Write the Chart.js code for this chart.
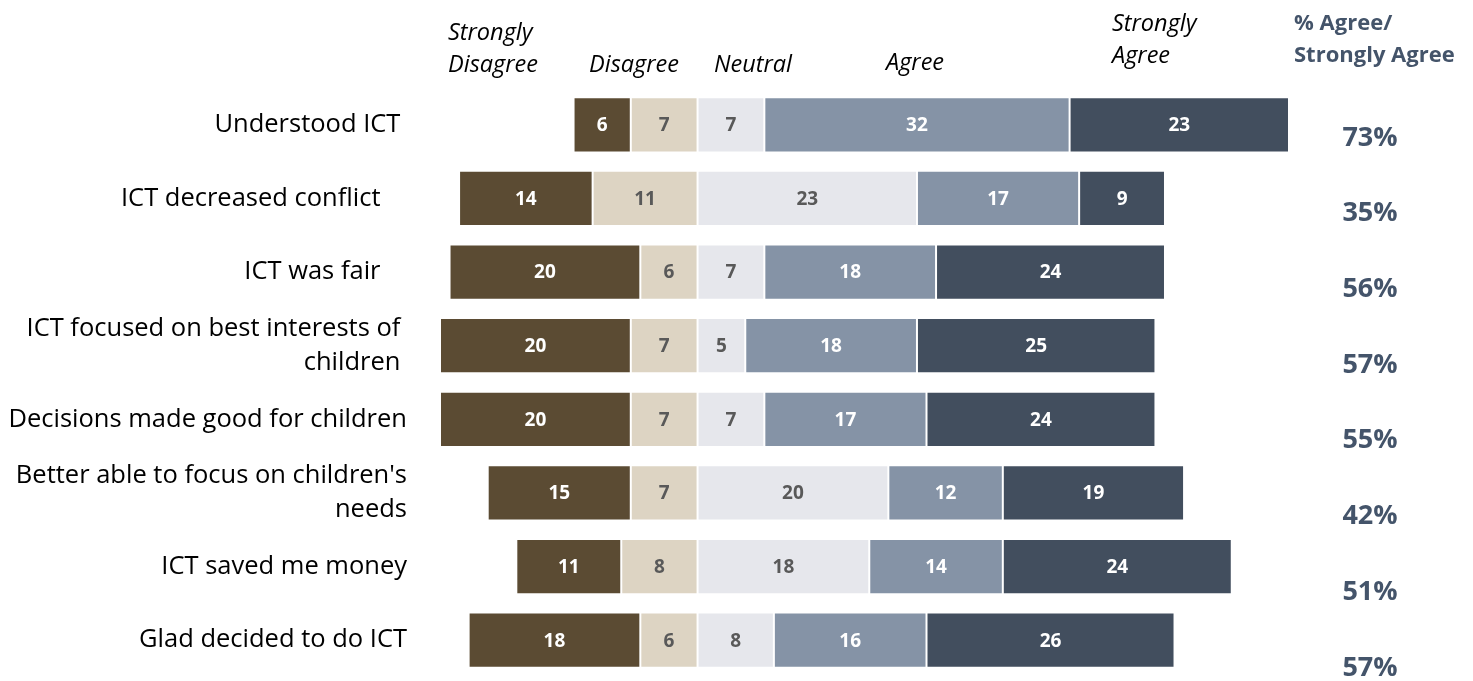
<!DOCTYPE html>
<html>
<head>
<meta charset="utf-8">
<script src="https://cdn.jsdelivr.net/npm/chart.js@4"></script>
<style>
  body { margin: 0; background: #fff; overflow: hidden; }
</style>
</head>
<body>
<canvas id="chart1" width="1473" height="681"></canvas>
<script>
Chart.defaults.font.family = "'Open Sans', sans-serif"

// preguntas (eje y)
const questions = [
  'Understood ICT ',
  'ICT decreased conflict    ',
  'ICT was fair    ',
  ['ICT focused on best interests of ', 'children '],
  'Decisions made good for children',
  ["Better able to focus on children's", 'needs'],
  'ICT saved me money',
  'Glad decided to do ICT'
]

// respuestas (conteos)
const stronglyDisagree = [6, 14, 20, 20, 20, 15, 11, 18]
const disagree         = [7, 11, 6, 7, 7, 7, 8, 6]
const neutral          = [7, 23, 7, 5, 7, 20, 18, 8]
const agree            = [32, 17, 18, 18, 17, 12, 14, 16]
const stronglyAgree    = [23, 9, 24, 25, 24, 19, 24, 26]

const pctAgree = ['73%', '35%', '56%', '57%', '55%', '42%', '51%', '57%']

const headerLabels = [['Strongly', 'Disagree'], ['Disagree'], ['Neutral'], ['Agree'], ['Strongly', 'Agree']]
const pctHeader = ['% Agree/', 'Strongly Agree']

const colors = ['#5b4b33', '#ddd4c3', '#e6e7ec', '#8593a6', '#424e5e']
const labelColors = ['#ffffff', '#595959', '#595959', '#ffffff', '#ffffff']

/* barras flotantes: el corte entre "Disagree" y "Neutral" queda en 0 */
const ranges = [
  stronglyDisagree.map((v, i) => [-(v + disagree[i]), -disagree[i]]),
  disagree.map(v => [-v, 0]),
  neutral.map(v => [0, v]),
  agree.map((v, i) => [neutral[i], neutral[i] + v]),
  stronglyAgree.map((v, i) => [neutral[i] + agree[i], neutral[i] + agree[i] + v])
]
const rawValues = [stronglyDisagree, disagree, neutral, agree, stronglyAgree]

const minX = Math.min(...stronglyDisagree.map((v, i) => -(v + disagree[i])))
const maxX = Math.max(...neutral.map((v, i) => v + agree[i] + stronglyAgree[i]))

const barLabels = {
  id: 'barLabels',
  afterDatasetsDraw(chart) {
    const ctx = chart.ctx
    ctx.save()
    ctx.font = "bold 19px 'Open Sans', sans-serif"
    ctx.textAlign = 'center'
    ctx.textBaseline = 'middle'
    chart.data.datasets.forEach((ds, d) => {
      chart.getDatasetMeta(d).data.forEach((bar, i) => {
        ctx.fillStyle = labelColors[d]
        ctx.fillText(rawValues[d][i], (bar.x + bar.base) / 2, bar.y + 1)
      })
    })
    ctx.restore()
  }
}

const headers = {
  id: 'headers',
  afterDraw(chart) {
    const ctx = chart.ctx
    const yScale = chart.scales.y
    ctx.save()
    ctx.textBaseline = 'middle'
    ctx.textAlign = 'left'
    ctx.fillStyle = '#000'
    ctx.font = "italic 23.5px 'Open Sans', sans-serif"
    const pos = [[448, 33], [589, 65], [714, 65], [886, 63], [1112, 24]]
    headerLabels.forEach((lines, k) => {
      lines.forEach((t, j) => ctx.fillText(t, pos[k][0], pos[k][1] + j * 32))
    })
    ctx.fillStyle = '#44546a'
    ctx.font = "bold 22px 'Open Sans', sans-serif"
    pctHeader.forEach((t, j) => ctx.fillText(t, 1294, 24 + j * 32))
    ctx.font = "bold 27px 'Open Sans', sans-serif"
    ctx.textAlign = 'center'
    pctAgree.forEach((t, i) => {
      ctx.fillText(t, 1370, yScale.getPixelForValue(i) + 13 + i * 2.1)
    })
    ctx.restore()
  }
}

new Chart('chart1', {
  type: 'bar',
  data: {
    labels: questions,
    datasets: ranges.map((r, d) => ({
      data: r,
      backgroundColor: colors[d],
      borderColor: '#ffffff',
      borderWidth: 1,
      borderSkipped: false,
      grouped: false,
      categoryPercentage: 1,
      barPercentage: 0.75
    }))
  },
  options: {
    indexAxis: 'y',
    responsive: false,
    animation: false,
    layout: { padding: { top: 88, right: 184, bottom: 4, left: 0 } },
    scales: {
      x: { display: false, min: minX, max: maxX },
      y: {
        afterFit: s => {
          s.width = 440
          s.paddingTop = 0
          s.paddingBottom = 0
        },
        grid: { display: false, drawTicks: false },
        border: { display: false },
        ticks: { color: '#000', padding: 33, font: { size: 25.5, lineHeight: 1.35 } }
      }
    },
    plugins: {
      legend: { display: false },
      tooltip: { enabled: false }
    }
  },
  plugins: [barLabels, headers]
})
</script>
</body>
</html>
